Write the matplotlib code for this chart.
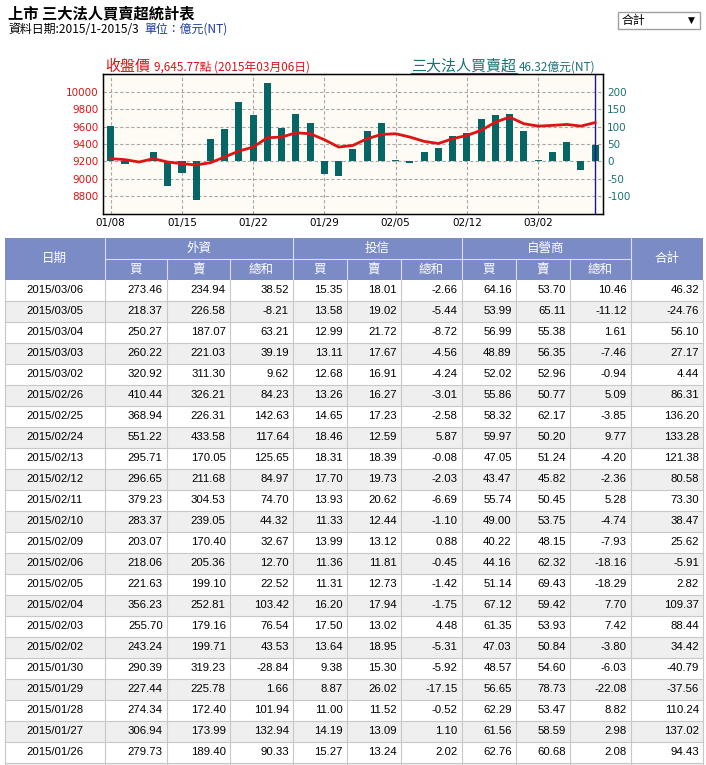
import numpy as np
import matplotlib
matplotlib.use("Agg")
from matplotlib import pyplot as plt
from matplotlib.patches import Rectangle

plt.rcParams['font.family'] = ['Noto Sans CJK TC', 'DejaVu Sans']
plt.rcParams['axes.unicode_minus'] = False

# table rows, newest first
dates = ['2015/03/06', '2015/03/05', '2015/03/04', '2015/03/03', '2015/03/02',
         '2015/02/26', '2015/02/25', '2015/02/24', '2015/02/13', '2015/02/12',
         '2015/02/11', '2015/02/10', '2015/02/09', '2015/02/06', '2015/02/05',
         '2015/02/04', '2015/02/03', '2015/02/02', '2015/01/30', '2015/01/29',
         '2015/01/28', '2015/01/27', '2015/01/26']
fi_buy = [273.46, 218.37, 250.27, 260.22, 320.92, 410.44, 368.94, 551.22, 295.71, 296.65,
          379.23, 283.37, 203.07, 218.06, 221.63, 356.23, 255.70, 243.24, 290.39, 227.44,
          274.34, 306.94, 279.73]
fi_sell = [234.94, 226.58, 187.07, 221.03, 311.30, 326.21, 226.31, 433.58, 170.05, 211.68,
           304.53, 239.05, 170.40, 205.36, 199.10, 252.81, 179.16, 199.71, 319.23, 225.78,
           172.40, 173.99, 189.40]
fi_net = [38.52, -8.21, 63.21, 39.19, 9.62, 84.23, 142.63, 117.64, 125.65, 84.97,
          74.70, 44.32, 32.67, 12.70, 22.52, 103.42, 76.54, 43.53, -28.84, 1.66,
          101.94, 132.94, 90.33]
it_buy = [15.35, 13.58, 12.99, 13.11, 12.68, 13.26, 14.65, 18.46, 18.31, 17.70,
          13.93, 11.33, 13.99, 11.36, 11.31, 16.20, 17.50, 13.64, 9.38, 8.87,
          11.00, 14.19, 15.27]
it_sell = [18.01, 19.02, 21.72, 17.67, 16.91, 16.27, 17.23, 12.59, 18.39, 19.73,
           20.62, 12.44, 13.12, 11.81, 12.73, 17.94, 13.02, 18.95, 15.30, 26.02,
           11.52, 13.09, 13.24]
it_net = [-2.66, -5.44, -8.72, -4.56, -4.24, -3.01, -2.58, 5.87, -0.08, -2.03,
          -6.69, -1.10, 0.88, -0.45, -1.42, -1.75, 4.48, -5.31, -5.92, -17.15,
          -0.52, 1.10, 2.02]
dl_buy = [64.16, 53.99, 56.99, 48.89, 52.02, 55.86, 58.32, 59.97, 47.05, 43.47,
          55.74, 49.00, 40.22, 44.16, 51.14, 67.12, 61.35, 47.03, 48.57, 56.65,
          62.29, 61.56, 62.76]
dl_sell = [53.70, 65.11, 55.38, 56.35, 52.96, 50.77, 62.17, 50.20, 51.24, 45.82,
           50.45, 53.75, 48.15, 62.32, 69.43, 59.42, 53.93, 50.84, 54.60, 78.73,
           53.47, 58.59, 60.68]
dl_net = [10.46, -11.12, 1.61, -7.46, -0.94, 5.09, -3.85, 9.77, -4.20, -2.36,
          5.28, -4.74, -7.93, -18.16, -18.29, 7.70, 7.42, -3.80, -6.03, -22.08,
          8.82, 2.98, 2.08]
total = [46.32, -24.76, 56.10, 27.17, 4.44, 86.31, 136.20, 133.28, 121.38, 80.58,
         73.30, 38.47, 25.62, -5.91, 2.82, 109.37, 88.44, 34.42, -40.79, -37.56,
         110.24, 137.02, 94.43]

# chart, oldest first (days before 01/26)
early_days = ['01/08', '01/09', '01/12', '01/13', '01/14', '01/15', '01/16',
              '01/19', '01/20', '01/21', '01/22', '01/23']
early_total = [101, -8, 1.5, 27, -70, -35, -110, 64, 93, 170, 133, 224]
close = [9231, 9219, 9192, 9231, 9192, 9173, 9158, 9184, 9250, 9318, 9364, 9471,
         9479, 9528, 9517, 9448, 9364, 9383, 9460, 9509, 9517, 9479, 9429, 9405,
         9460, 9498, 9555, 9651, 9708, 9632, 9605, 9613, 9624, 9605, 9645.77]
tick_days = ['01/08', '01/15', '01/22', '01/29', '02/05', '02/12', '03/02']

chart_days = early_days + [d[5:] for d in dates[::-1]]
net = early_total + total[::-1]
x = np.arange(len(chart_days))

W, H = 706, 765
fig = plt.figure(figsize=(W / 100, H / 100), dpi=100)
bg = fig.add_axes([0, 0, 1, 1])
bg.set_xlim(0, W)
bg.set_ylim(H, 0)
bg.axis('off')

red = '#dc1414'
teal = '#1a7272'
tick_font = ['DejaVu Sans']

# page header
bg.text(8, 13, '上市 三大法人買賣超統計表', fontsize=11, fontweight='bold', va='center')
bg.text(8, 29, '資料日期:2015/1-2015/3', fontsize=8.6, va='center')
bg.text(144, 29, '單位：億元(NT)', fontsize=8.6, va='center', color='#1c3ca0')

bg.add_patch(Rectangle((617.5, 11.5), 82, 17, fc='white', ec='#a0a0a0', lw=1))
bg.text(622, 20, '合計', fontsize=8.6, va='center')
bg.text(691, 20, '▼', fontsize=6.5, va='center', ha='center', family=['DejaVu Sans'])

# chart titles
bg.text(105, 67, '收盤價', fontsize=10.8, color=red, va='center')
bg.text(154, 67.5, '9,645.77點 (2015年03月06日)', fontsize=8.5, color=red, va='center')
bg.text(411, 66, '三大法人買賣超', fontsize=10.8, color=teal, va='center')
bg.plot([411, 517], [73, 73], color=teal, lw=0.8)
bg.text(519, 67, '46.32億元(NT)', fontsize=8.5, color=teal, va='center')

# chart: bars on right axis, close price on left axis
ax = fig.add_axes([103 / W, 1 - 213.5 / H, 500 / W, 139.5 / H])
ax2 = ax.twinx()
ax.set_facecolor('#fdfbf3')
ax.bar(x, net, width=0.5, color='#066666', zorder=2)
ax.axvline(x[-1], color='#1a1a8c', lw=1, zorder=3)
ax.set_xlim(-0.54, 34.55)
ax.set_ylim(-150, 251)
ax.set_yticks(np.arange(-100, 201, 50))
ax.yaxis.tick_right()
ax.yaxis.set_label_position('right')
ax.set_xticks([chart_days.index(d) for d in tick_days])
ax.set_xticklabels(tick_days, family=tick_font)
for lab in ax.get_yticklabels():
    lab.set_family(tick_font)
ax.tick_params(axis='x', length=0, pad=3, labelsize=7.5)
ax.tick_params(axis='y', length=0, pad=3, labelsize=7.5, labelcolor=teal)
ax.grid(True, color='#a8a8a8', ls=(0, (3, 2)), lw=0.8)
ax.set_axisbelow(True)
for s in ax.spines.values():
    s.set_color('black')
    s.set_linewidth(1)

ax2.plot(x, close, color=red, lw=2, solid_joinstyle='round', zorder=4)
ax2.set_ylim(9200 - 4 * 150, 9200 + 4 * 251)
ax2.set_yticks(np.arange(8800, 10001, 200))
ax2.yaxis.tick_left()
for lab in ax2.get_yticklabels():
    lab.set_family(tick_font)
ax2.tick_params(axis='y', length=0, pad=3, labelsize=7.5, labelcolor=red)
ax2.tick_params(axis='y', right=False, labelright=False, left=True, labelleft=True)

# table
edges = [5, 104.5, 166.7, 229.7, 292.8, 346.8, 400.9, 461.7, 515.8, 569.8, 630.6, 703]
top, mid, hbot, rh = 238, 258.5, 279.5, 21
head_col = '#7b8bc6'
line_col = '#c8c8c8'
bg.add_patch(Rectangle((edges[0], top), edges[-1] - edges[0], hbot - top, fc=head_col, ec='none'))
for e in edges[1:-1]:
    y0 = mid if e not in (104.5, 292.8, 461.7, 630.6) else top
    bg.plot([e, e], [y0, hbot], color='#d8ddf0', lw=0.8)
bg.plot([edges[1], edges[10]], [mid, mid], color='#d8ddf0', lw=0.8)

bg.text((edges[0] + edges[1]) / 2, (top + hbot) / 2, '日期', color='white', fontsize=9, ha='center', va='center')
bg.text((edges[10] + edges[11]) / 2, (top + hbot) / 2, '合計', color='white', fontsize=9, ha='center', va='center')
for g, name in enumerate(['外資', '投信', '自營商']):
    bg.text((edges[1 + 3 * g] + edges[4 + 3 * g]) / 2, (top + mid) / 2, name,
            color='white', fontsize=9, ha='center', va='center')
    for k, sub in enumerate(['買', '賣', '總和']):
        bg.text((edges[1 + 3 * g + k] + edges[2 + 3 * g + k]) / 2, (mid + hbot) / 2, sub,
                color='white', fontsize=9, ha='center', va='center')

cols = [fi_buy, fi_sell, fi_net, it_buy, it_sell, it_net, dl_buy, dl_sell, dl_net, total]
num_font = ['Liberation Sans Narrow', 'Liberation Sans', 'DejaVu Sans']
nrows = len(dates)
for i in range(nrows + 1):
    y0 = hbot + i * rh
    fc = 'white' if i % 2 == 0 else '#efefef'
    bg.add_patch(Rectangle((edges[0], y0), edges[-1] - edges[0], rh, fc=fc, ec='none'))
    bg.plot([edges[0], edges[-1]], [y0 + rh, y0 + rh], color=line_col, lw=0.8)
    if i == nrows:
        continue
    yc = y0 + rh / 2
    bg.text((edges[0] + edges[1]) / 2, yc, dates[i], fontsize=8.2, ha='center', va='center',
            family=num_font)
    for j, col in enumerate(cols):
        bg.text(edges[j + 2] - 4, yc, f'{col[i]:.2f}', fontsize=8.2, ha='right', va='center',
                family=num_font)
for e in edges:
    bg.plot([e, e], [hbot, H], color=line_col, lw=0.8)

fig.savefig('out.png', dpi=100)
